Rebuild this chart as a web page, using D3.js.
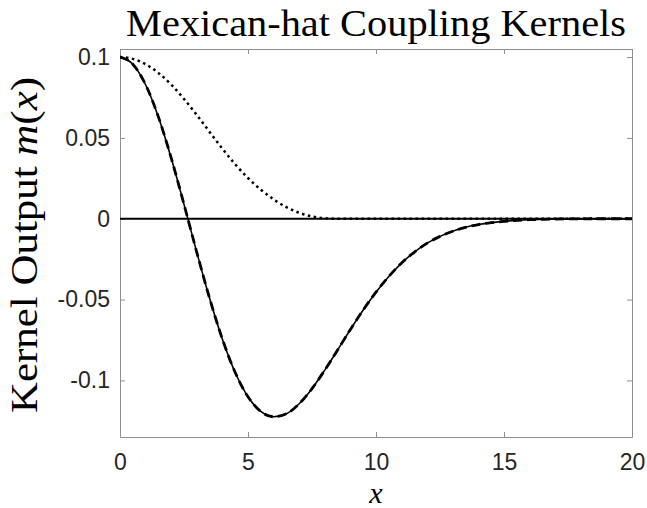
<!DOCTYPE html>
<html>
<head>
<meta charset="utf-8">
<script src="https://cdn.jsdelivr.net/npm/d3@7"></script>
<style>
  html, body { margin: 0; padding: 0; background: #ffffff; }
  svg { display: block; }
</style>
</head>
<body>
<svg id="chart" width="647" height="508"></svg>
<script>
// Sample positions along x
const xSamples = [0, 0.5, 1, 1.5, 2, 2.5, 3, 3.5, 4, 4.5, 5, 5.5, 6, 6.5, 7, 7.5, 8, 8.5, 9, 9.5, 10,
                  10.5, 11, 11.5, 12, 12.5, 13, 13.5, 14, 14.5, 15, 15.5, 16, 16.5, 17, 17.5, 18, 18.5, 19, 19.5, 20];

// Mexican-hat kernel (solid)
const hatSolid = [0.1000, 0.0956, 0.0829, 0.0630, 0.0376, 0.0089, -0.0208, -0.0492, -0.0745, -0.0951, -0.1101,
                  -0.1192, -0.1225, -0.1206, -0.1144, -0.1051, -0.0936, -0.0812, -0.0685, -0.0564, -0.0454,
                  -0.0357, -0.0274, -0.0206, -0.0151, -0.0109, -0.0077, -0.0053, -0.0036, -0.0024, -0.0016,
                  -0.0010, -0.0006, -0.0004, -0.0002, -0.0001, -0.0001, 0, 0, 0, 0];

// Mexican-hat kernel (dashed)
const hatDashed = [0.1000, 0.0956, 0.0829, 0.0630, 0.0376, 0.0089, -0.0208, -0.0492, -0.0745, -0.0951, -0.1101,
                   -0.1192, -0.1225, -0.1206, -0.1144, -0.1051, -0.0936, -0.0812, -0.0685, -0.0564, -0.0454,
                   -0.0357, -0.0274, -0.0206, -0.0151, -0.0109, -0.0077, -0.0053, -0.0036, -0.0024, -0.0016,
                   -0.0010, -0.0006, -0.0004, -0.0002, -0.0001, -0.0001, 0, 0, 0, 0];

// Excitatory bump (dotted)
const bumpDotted = [0.1000, 0.0989, 0.0956, 0.0902, 0.0830, 0.0741, 0.0642, 0.0537, 0.0433, 0.0337, 0.0252,
                    0.0180, 0.0120, 0.0072, 0.0037, 0.0014, 0.0003, 0, 0, 0, 0,
                    0, 0, 0, 0, 0, 0, 0, 0, 0, 0,
                    0, 0, 0, 0, 0, 0, 0, 0, 0, 0];

// Zero reference
const zeroLineX = [0, 20];
const zeroLineY = [0, 0];

// Axis ticks
const xTicks = [0, 5, 10, 15, 20];
const xTickLabels = ["0", "5", "10", "15", "20"];
const yTicks = [-0.1, -0.05, 0, 0.05, 0.1];
const yTickLabels = ["-0.1", "-0.05", "0", "0.05", "0.1"];

const xDomain = [0, 20];
const yDomain = [-0.135, 0.105];

const svg = d3.select("#chart");
const plotLeft = 120, plotRight = 632, plotTop = 49, plotBottom = 437;

const x = d3.scaleLinear().domain(xDomain).range([plotLeft, plotRight]);
const y = d3.scaleLinear().domain(yDomain).range([plotBottom, plotTop]);

const axisColor = "#8f8f8f";
const labelColor = "#262626";
const sansFont = "'Liberation Sans', Arial, Helvetica, sans-serif";
const serifFont = "'Liberation Serif', 'Times New Roman', serif";

// Plot area clip
svg.append("defs").append("clipPath").attr("id", "plotClip")
  .append("rect").attr("x", plotLeft).attr("y", plotTop)
  .attr("width", plotRight - plotLeft).attr("height", plotBottom - plotTop);

// Axes (ticks point inward, box on all four sides)
function styleAxis(g) {
  g.select(".domain").attr("stroke", axisColor).attr("stroke-width", 1);
  g.selectAll(".tick line").attr("stroke", axisColor).attr("stroke-width", 1);
  g.selectAll(".tick text").attr("fill", labelColor)
    .attr("font-family", sansFont).attr("font-size", 23);
}

svg.append("g").attr("transform", `translate(0,${plotBottom})`)
  .call(d3.axisBottom(x).tickValues(xTicks).tickFormat((d, i) => xTickLabels[i])
        .tickSizeInner(-5).tickSizeOuter(0).tickPadding(17))
  .call(styleAxis);

svg.append("g").attr("transform", `translate(0,${plotTop})`)
  .call(d3.axisTop(x).tickValues(xTicks).tickFormat("")
        .tickSizeInner(-5).tickSizeOuter(0))
  .call(styleAxis);

svg.append("g").attr("transform", `translate(${plotLeft},0)`)
  .call(d3.axisLeft(y).tickValues(yTicks).tickFormat((d, i) => yTickLabels[i])
        .tickSizeInner(-5).tickSizeOuter(0).tickPadding(10))
  .call(styleAxis);

svg.append("g").attr("transform", `translate(${plotRight},0)`)
  .call(d3.axisRight(y).tickValues(yTicks).tickFormat("")
        .tickSizeInner(-5).tickSizeOuter(0))
  .call(styleAxis);

// Curves
const plot = svg.append("g").attr("clip-path", "url(#plotClip)");

const line = d3.line()
  .x(d => x(d[0]))
  .y(d => y(d[1]))
  .curve(d3.curveMonotoneX);

plot.append("path")
  .datum(zeroLineX.map((v, i) => [v, zeroLineY[i]]))
  .attr("d", line)
  .attr("fill", "none").attr("stroke", "#000").attr("stroke-width", 2);

plot.append("path")
  .datum(xSamples.map((v, i) => [v, bumpDotted[i]]))
  .attr("d", line)
  .attr("fill", "none").attr("stroke", "#000").attr("stroke-width", 2.5)
  .attr("stroke-dasharray", "2.5,3.5");

plot.append("path")
  .datum(xSamples.map((v, i) => [v, hatSolid[i]]))
  .attr("d", line)
  .attr("fill", "none").attr("stroke", "#000").attr("stroke-width", 1.6);

plot.append("path")
  .datum(xSamples.map((v, i) => [v, hatDashed[i]]))
  .attr("d", line)
  .attr("fill", "none").attr("stroke", "#000").attr("stroke-width", 2.8)
  .attr("stroke-dasharray", "9,5");

// Title
svg.append("text")
  .attr("x", (plotLeft + plotRight) / 2).attr("y", 36)
  .attr("text-anchor", "middle")
  .attr("font-family", serifFont).attr("font-size", 37)
  .attr("textLength", 500).attr("lengthAdjust", "spacingAndGlyphs")
  .attr("fill", "#000")
  .text("Mexican-hat Coupling Kernels");

// X label
svg.append("text")
  .attr("x", (plotLeft + plotRight) / 2).attr("y", 503)
  .attr("text-anchor", "middle")
  .attr("font-family", serifFont).attr("font-style", "italic").attr("font-size", 30)
  .attr("fill", "#000")
  .text("x");

// Y label
const yLab = svg.append("text")
  .attr("transform", `translate(37,${(plotTop + plotBottom) / 2 + 2}) rotate(-90)`)
  .attr("text-anchor", "middle")
  .attr("font-family", serifFont).attr("font-size", 37)
  .attr("textLength", 336).attr("lengthAdjust", "spacingAndGlyphs")
  .attr("fill", "#000");
yLab.append("tspan").text("Kernel Output ");
yLab.append("tspan").attr("font-style", "italic").text("m");
yLab.append("tspan").text("(");
yLab.append("tspan").attr("font-style", "italic").text("x");
yLab.append("tspan").text(")");
</script>
</body>
</html>
